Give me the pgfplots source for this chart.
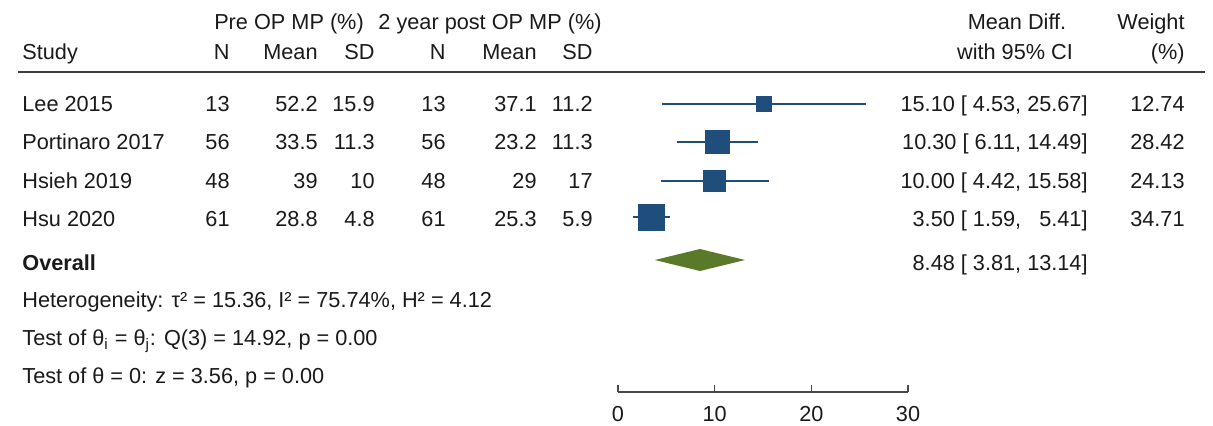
\documentclass[border=0pt]{standalone}
\usepackage{pgfplots}
\pgfplotsset{compat=1.18}
\usepackage{fontspec}
\setmainfont{Liberation Sans}
\definecolor{navy}{HTML}{1F4E7C}
\definecolor{olive}{HTML}{5A7A2A}
\definecolor{ink}{HTML}{1A1A1A}
% text node: anchor, pixel x, pixel baseline y, text
\newcommand{\T}[4]{\node[anchor=#1,inner sep=0pt,text=ink] at (axis cs:{(#2-618)/9.667},{425-#3}) {#4};}
\begin{document}
\begin{tikzpicture}[font=\fontsize{10.85}{13}\selectfont]
\path[use as bounding box] (0,0) rectangle (606.5pt,212.5pt);
\begin{axis}[at={(0,0)},anchor=south west,scale only axis,
  width=606.5pt,height=212.5pt,
  xmin=-63.93,xmax=61.55,ymin=0,ymax=425,
  hide axis,clip=false]
% header
\T{base}{289}{29.8}{Pre OP MP (\%)}
\T{base}{490}{29.8}{2 year post OP MP (\%)}
\T{base}{1017}{29.8}{Mean Diff.}
\T{base east}{1185}{29.8}{Weight}
\T{base west}{22}{59.8}{Study}
\T{base east}{230}{59.8}{N}
\T{base east}{318}{59.8}{Mean}
\T{base east}{375}{59.8}{SD}
\T{base east}{446}{59.8}{N}
\T{base east}{537}{59.8}{Mean}
\T{base east}{593}{59.8}{SD}
\T{base}{1015}{59.8}{with 95\% CI}
\T{base east}{1185}{59.8}{(\%)}
\draw[line width=1pt,ink!85] (axis cs:{(18-618)/9.667},{425-72}) -- (axis cs:{(1205-618)/9.667},{425-72});
% rows
\T{base west}{22}{111.8}{Lee 2015}
\T{base east}{230}{111.8}{13}
\T{base east}{318}{111.8}{52.2}
\T{base east}{375}{111.8}{15.9}
\T{base east}{446}{111.8}{13}
\T{base east}{537}{111.8}{37.1}
\T{base east}{593}{111.8}{11.2}
\T{base east}{1088}{111.8}{15.10 [ 4.53, 25.67]}
\T{base east}{1185}{111.8}{12.74}
\T{base west}{22}{149.8}{Portinaro 2017}
\T{base east}{230}{149.8}{56}
\T{base east}{318}{149.8}{33.5}
\T{base east}{375}{149.8}{11.3}
\T{base east}{446}{149.8}{56}
\T{base east}{537}{149.8}{23.2}
\T{base east}{593}{149.8}{11.3}
\T{base east}{1088}{149.8}{10.30 [ 6.11, 14.49]}
\T{base east}{1185}{149.8}{28.42}
\T{base west}{22}{188.8}{Hsieh 2019}
\T{base east}{230}{188.8}{48}
\T{base east}{318}{188.8}{39}
\T{base east}{375}{188.8}{10}
\T{base east}{446}{188.8}{48}
\T{base east}{537}{188.8}{29}
\T{base east}{593}{188.8}{17}
\T{base east}{1088}{188.8}{10.00 [ 4.42, 15.58]}
\T{base east}{1185}{188.8}{24.13}
\T{base west}{22}{226.8}{Hsu 2020}
\T{base east}{230}{226.8}{61}
\T{base east}{318}{226.8}{28.8}
\T{base east}{375}{226.8}{4.8}
\T{base east}{446}{226.8}{61}
\T{base east}{537}{226.8}{25.3}
\T{base east}{593}{226.8}{5.9}
\T{base east}{1088}{226.8}{3.50 [ 1.59, \phantom{0}5.41]}
\T{base east}{1185}{226.8}{34.71}
\T{base west}{22}{270.8}{\bfseries Overall}
\T{base east}{1088}{270.8}{8.48 [ 3.81, 13.14]}
\T{base west}{22}{307.8}{Heterogeneity: τ² = 15.36, I² = 75.74\%, H² = 4.12}
\T{base west}{22}{345.8}{Test of θ\textsubscript{i} = θ\textsubscript{j}: Q(3) = 14.92, p = 0.00}
\T{base west}{22}{383.8}{Test of θ = 0: z = 3.56, p = 0.00}
% study estimates
\addplot[only marks,mark=square*,mark size=3.93pt,color=navy,
  error bars/.cd,x dir=both,x explicit,error mark=none,
  error bar style={line width=0.8pt,color=navy}]
  coordinates {(15.10,321) -= (10.57,0) += (10.57,0)};
\addplot[only marks,mark=square*,mark size=5.87pt,color=navy,
  error bars/.cd,x dir=both,x explicit,error mark=none,
  error bar style={line width=0.8pt,color=navy}]
  coordinates {(10.30,283) -= (4.19,0) += (4.19,0)};
\addplot[only marks,mark=square*,mark size=5.40pt,color=navy,
  error bars/.cd,x dir=both,x explicit,error mark=none,
  error bar style={line width=0.8pt,color=navy}]
  coordinates {(10.00,244) -= (5.58,0) += (5.58,0)};
\addplot[only marks,mark=square*,mark size=6.48pt,color=navy,
  error bars/.cd,x dir=both,x explicit,error mark=none,
  error bar style={line width=0.8pt,color=navy}]
  coordinates {(3.50,208) -= (1.91,0) += (1.91,0)};
% overall diamond
\addplot[fill=olive,draw=none] coordinates {(3.81,165) (8.48,176) (13.14,165) (8.48,154)} -- cycle;
\end{axis}
\begin{axis}[at={(309pt,16.5pt)},anchor=south west,scale only axis,
  width=145pt,height=10pt,xmin=0,xmax=30,ymin=0,ymax=1,
  axis x line=bottom,axis y line=none,
  x axis line style={-,line width=0.8pt,ink!80},
  xtick={0,10,20,30},tick align=inside,major tick length=3.5pt,
  xtick style={line width=0.8pt,ink!80},
  xticklabel style={font=\fontsize{10.85}{13}\selectfont,text=ink,yshift=-3.5pt},
  /pgf/number format/assume math mode=true]
\end{axis}
\end{tikzpicture}
\end{document}
